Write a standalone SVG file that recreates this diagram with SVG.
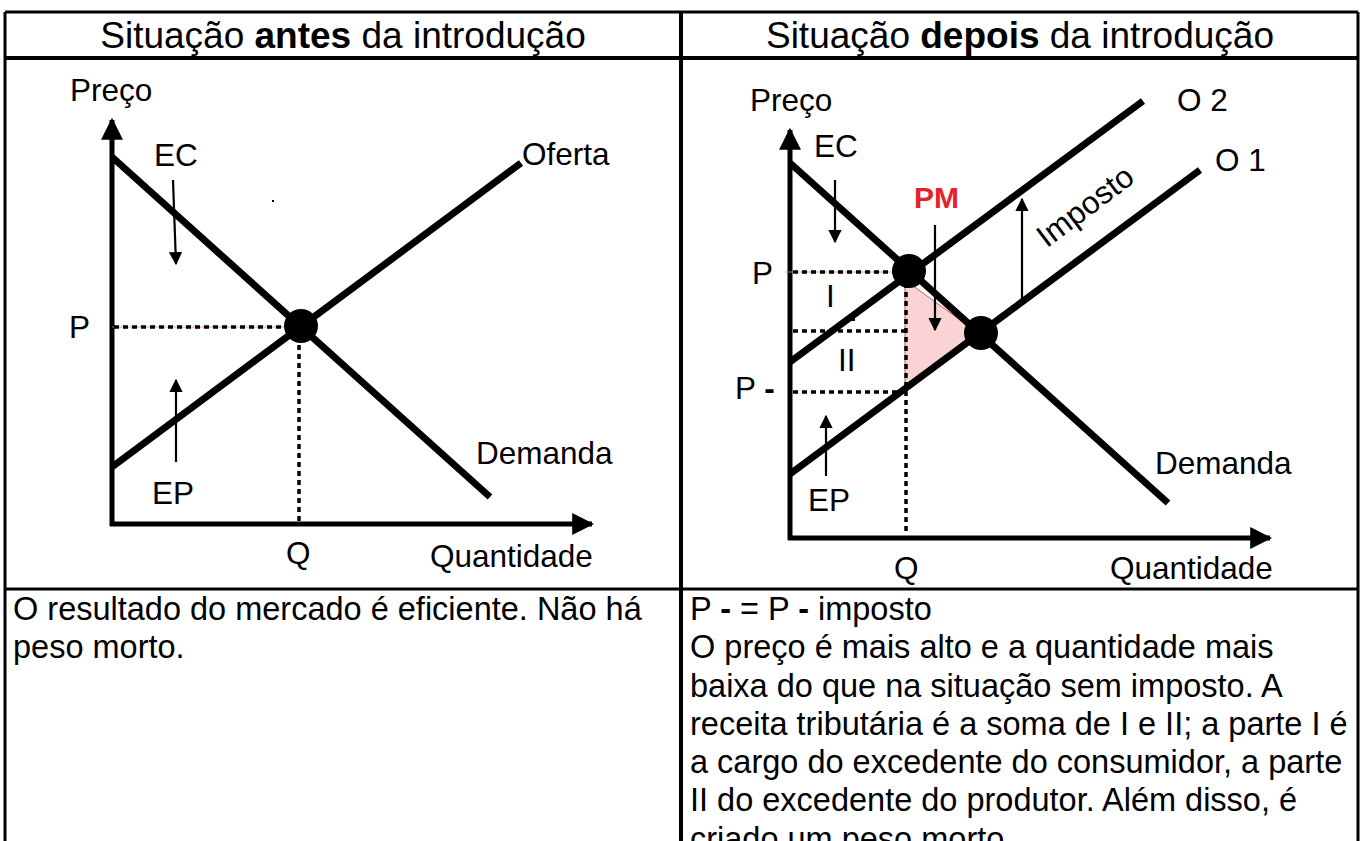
<svg xmlns="http://www.w3.org/2000/svg" width="1362" height="841" viewBox="0 0 1362 841">
<defs>
<style>
text{font-family:"Liberation Sans",Arial,sans-serif;fill:#000}
.hd{font-size:37px}
.lb{font-size:31.5px}
.bt{font-size:32.5px}
.grid{stroke:#000;fill:none}
.curve{stroke:#000;stroke-width:7;fill:none;stroke-linecap:butt}
.axis{stroke:#000;stroke-width:5;fill:none}
.dot{stroke:#000;stroke-width:3.5;stroke-dasharray:5 4;fill:none}
.thin{stroke:#000;stroke-width:2.2;fill:none}
.red{stroke:#f08080;stroke-width:0.8;fill:none}
</style>
<marker id="ax" viewBox="0 0 10 10" refX="9" refY="5" markerWidth="4.4" markerHeight="4.4" markerUnits="strokeWidth" orient="auto"><path d="M0,0 L10,5 L0,10 Z" fill="#000"/></marker>
<marker id="ar" viewBox="0 0 10 10" refX="9" refY="5" markerWidth="6" markerHeight="6" markerUnits="strokeWidth" orient="auto"><path d="M0,0 L10,5 L0,10 Z" fill="#000"/></marker>
</defs>
<rect width="1362" height="841" fill="#fff"/>

<g id="table">
<line class="grid" x1="5" y1="12" x2="1358" y2="12" stroke-width="3"/>
<line class="grid" x1="5" y1="12" x2="5" y2="841" stroke-width="3"/>
<line class="grid" x1="1358" y1="12" x2="1358" y2="841" stroke-width="3"/>
<line class="grid" x1="681" y1="12" x2="681" y2="841" stroke-width="4"/>
<line class="grid" x1="5" y1="58" x2="1358" y2="58" stroke-width="4"/>
<line class="grid" x1="5" y1="589" x2="1358" y2="589" stroke-width="3"/>
</g>

<g id="header-left"><text class="hd" x="343" y="48" text-anchor="middle">Situação <tspan font-weight="bold">antes</tspan> da introdução</text></g>
<g id="header-right"><text class="hd" x="1020" y="48" text-anchor="middle">Situação <tspan font-weight="bold">depois</tspan> da introdução</text></g>

<g id="chart-left">
<line class="axis" x1="112" y1="526" x2="112" y2="120" marker-end="url(#ax)"/>
<line class="axis" x1="110" y1="524" x2="592" y2="524" marker-end="url(#ax)"/>
<line class="red" x1="112" y1="327" x2="300" y2="327"/>
<line class="dot" x1="114" y1="327" x2="300" y2="327"/>
<line class="dot" x1="299" y1="327" x2="299" y2="522"/>
<line class="curve" x1="112" y1="157" x2="490" y2="497"/>
<line class="curve" x1="112" y1="467" x2="521" y2="163"/>
<circle cx="301" cy="326" r="17" fill="#000"/>
<line class="thin" x1="173" y1="180" x2="176" y2="264" marker-end="url(#ar)"/>
<line class="thin" x1="176" y1="462" x2="176" y2="380" marker-end="url(#ar)"/>
<rect x="272" y="200" width="2" height="2" fill="#000"/>
<text class="lb" x="70" y="101">Preço</text>
<text class="lb" x="154" y="166">EC</text>
<text class="lb" x="522" y="165">Oferta</text>
<text class="lb" x="69" y="338">P</text>
<text class="lb" x="476" y="464">Demanda</text>
<text class="lb" x="152" y="504">EP</text>
<text class="lb" x="286" y="564">Q</text>
<text class="lb" x="430" y="567">Quantidade</text>
</g>

<g id="chart-right">
<polygon points="905,280 905,388 978,333" fill="#fad4d4" stroke="#b04040" stroke-width="0.8"/>
<line class="axis" x1="790" y1="540" x2="790" y2="130" marker-end="url(#ax)"/>
<line class="axis" x1="788" y1="538" x2="1270" y2="538" marker-end="url(#ax)"/>
<line class="red" x1="785" y1="272" x2="895" y2="272"/>
<line class="dot" x1="793" y1="272" x2="905" y2="272"/>
<line class="dot" x1="793" y1="331" x2="905" y2="331"/>
<line class="dot" x1="793" y1="392" x2="905" y2="392"/>
<line class="dot" x1="906" y1="274" x2="906" y2="532"/>
<line class="curve" x1="790" y1="163" x2="1168" y2="503"/>
<line class="curve" x1="790" y1="362" x2="1143" y2="101"/>
<line class="curve" x1="790" y1="474" x2="1200" y2="170"/>
<rect x="847" y="316" width="8" height="5" fill="#000"/>
<circle cx="909" cy="271" r="17" fill="#000"/>
<circle cx="981" cy="333" r="17" fill="#000"/>
<line class="thin" x1="835" y1="180" x2="835" y2="242" marker-end="url(#ar)"/>
<line class="thin" x1="826" y1="476" x2="826" y2="416" marker-end="url(#ar)"/>
<line class="thin" x1="935" y1="225" x2="935" y2="330" marker-end="url(#ar)"/>
<line class="thin" x1="1022" y1="300" x2="1022" y2="199" marker-end="url(#ar)"/>
<text class="lb" x="750" y="111">Preço</text>
<text class="lb" x="1177" y="111">O 2</text>
<text class="lb" x="814" y="157">EC</text>
<text class="lb" x="1215" y="171">O 1</text>
<text x="914" y="208" font-size="30" font-weight="bold" style="fill:#e8202a">PM</text>
<text class="lb" x="1085" y="217" text-anchor="middle" transform="rotate(-37 1085 206)">Imposto</text>
<text class="lb" x="752" y="284">P</text>
<text class="lb" x="826" y="307">I</text>
<text class="lb" x="838" y="371">II</text>
<text class="lb" x="735" y="399">P <tspan font-weight="bold">-</tspan></text>
<text class="lb" x="1155" y="474">Demanda</text>
<text class="lb" x="808" y="511">EP</text>
<text class="lb" x="894" y="579">Q</text>
<text class="lb" x="1110" y="579">Quantidade</text>
</g>

<g id="text-left">
<text class="bt" x="13" y="620">O resultado do mercado é eficiente. Não há</text>
<text class="bt" x="13" y="658">peso morto.</text>
</g>
<g id="text-right">
<text class="bt" x="690" y="620">P <tspan font-weight="bold">-</tspan> = P <tspan font-weight="bold">-</tspan> imposto</text>
<text class="bt" x="690" y="658">O preço é mais alto e a quantidade mais</text>
<text class="bt" x="690" y="697">baixa do que na situação sem imposto. A</text>
<text class="bt" x="690" y="735">receita tributária é a soma de I e II; a parte I é</text>
<text class="bt" x="690" y="773">a cargo do excedente do consumidor, a parte</text>
<text class="bt" x="690" y="811">II do excedente do produtor. Além disso, é</text>
<text class="bt" x="690" y="850">criado um peso morto.</text>
</g>
</svg>
